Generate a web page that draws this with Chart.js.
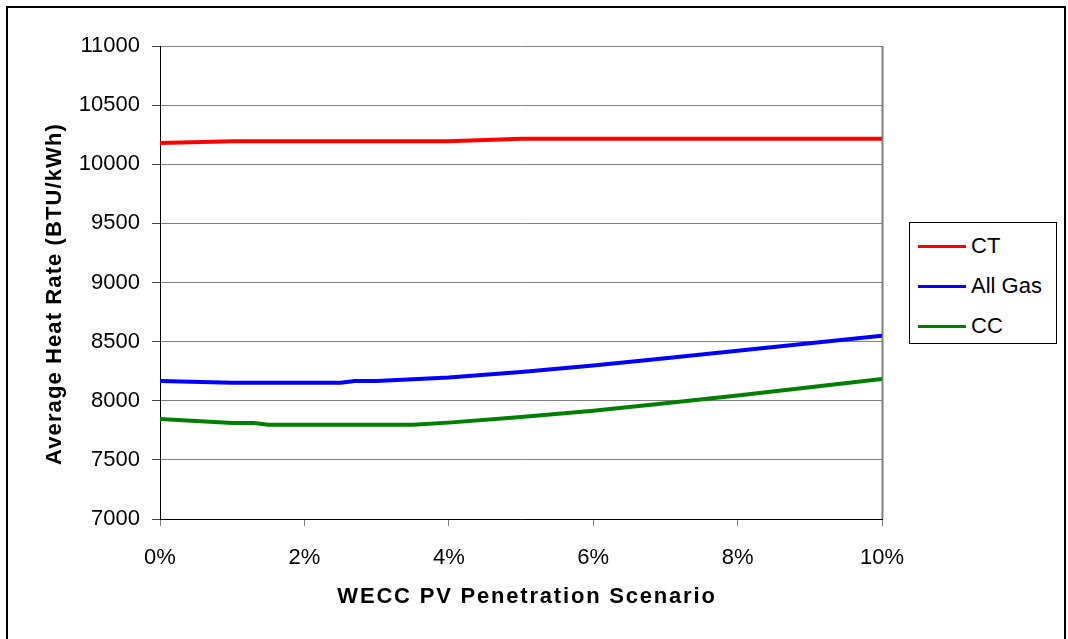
<!DOCTYPE html>
<html>
<head>
<meta charset="utf-8">
<script src="https://cdn.jsdelivr.net/npm/chart.js@4/dist/chart.umd.min.js"></script>
<style>
    body { margin: 0; background: #fff; }
    #wrap { position: relative; width: 1068px; height: 639px; }
    #legend {
        position: absolute; left: 909px; top: 222px; width: 146px; height: 117px;
        border: 1px solid #000; background: #fff; padding-top: 3px; box-sizing: content-box;
        font-family: "Liberation Sans", Arial, sans-serif; font-size: 22px; color: #000;
    }
    #legend .item { display: flex; align-items: center; height: 40px; margin-left: 8px; }
    #legend .swatch { width: 48px; height: 3px; margin-right: 5px; }
</style>
</head>
<body>
<div id="wrap">
    <canvas id="chart" width="1068" height="639"></canvas>
    <div id="legend"></div>
</div>
<script>
// series values (x in % penetration, y in BTU/kWh)
const seriesNames = ['CT', 'All Gas', 'CC'];
const seriesColors = ['#ff0000', '#0000ff', '#008000'];

const ctX = [0, 1, 4, 5, 10];
const ctY = [10180, 10195, 10195, 10215, 10215];

const gasX = [0, 1, 2.5, 2.7, 3, 4, 5, 6, 7, 8, 9, 10];
const gasY = [8167, 8152, 8152, 8167, 8168, 8197, 8243, 8298, 8360, 8422, 8487, 8550];

const ccX = [0, 1, 1.3, 1.5, 3.5, 4, 5, 6, 7, 8, 9, 10];
const ccY = [7845, 7812, 7812, 7797, 7797, 7815, 7862, 7915, 7978, 8045, 8115, 8185];

const xTitle = 'WECC PV Penetration Scenario';
const yTitle = 'Average Heat Rate (BTU/kWh)';

const fontFamily = '"Liberation Sans", Arial, sans-serif';

function toPoints(xs, ys) {
    return xs.map((x, i) => ({ x: x, y: ys[i] }));
}

const allX = [ctX, gasX, ccX];
const allY = [ctY, gasY, ccY];

const datasets = seriesNames.map((name, i) => ({
    label: name,
    data: toPoints(allX[i], allY[i]),
    borderColor: seriesColors[i],
    backgroundColor: seriesColors[i],
    borderWidth: 4,
    pointRadius: 0,
    tension: 0,
    fill: false
}));

// outer frame, right plot border, and spaced-out axis titles
const decorPlugin = {
    id: 'decor',
    beforeDatasetsDraw(chart) {
        const ctx = chart.ctx;
        const area = chart.chartArea;
        ctx.save();
        ctx.strokeStyle = '#808080';
        ctx.lineWidth = 2;
        ctx.beginPath();
        ctx.moveTo(area.right + 0.5, area.top);
        ctx.lineTo(area.right + 0.5, area.bottom);
        ctx.stroke();
        ctx.restore();
    },
    afterDraw(chart) {
        const ctx = chart.ctx;
        ctx.save();
        ctx.strokeStyle = '#000';
        ctx.lineWidth = 2;
        ctx.strokeRect(7, 7, 1058, 640);

        ctx.fillStyle = '#000';
        ctx.font = 'bold 22px ' + fontFamily;
        ctx.textAlign = 'center';
        ctx.textBaseline = 'alphabetic';
        ctx.letterSpacing = '1.8px';
        ctx.fillText(xTitle, 527, 603);

        ctx.letterSpacing = '1.1px';
        ctx.translate(61, 294);
        ctx.rotate(-Math.PI / 2);
        ctx.fillText(yTitle, 0, 0);
        ctx.restore();
    }
};

new Chart(document.getElementById('chart'), {
    type: 'line',
    data: { datasets: datasets },
    plugins: [decorPlugin],
    options: {
        responsive: false,
        animation: false,
        devicePixelRatio: 1,
        layout: { padding: { top: 46, right: 186, left: 0, bottom: 0 } },
        plugins: {
            legend: { display: false },
            tooltip: { enabled: false }
        },
        scales: {
            x: {
                type: 'linear',
                min: 0,
                max: 10,
                ticks: {
                    stepSize: 2,
                    color: '#000',
                    padding: 19,
                    maxRotation: 0,
                    font: { family: fontFamily, size: 22 },
                    callback: v => v + '%'
                },
                grid: { drawOnChartArea: false, tickLength: 7, color: '#808080' },
                border: { color: '#000', width: 1 },
                afterFit(scale) {
                    scale.height = 120;
                    scale.paddingLeft = 0;
                    scale.paddingRight = 0;
                }
            },
            y: {
                min: 7000,
                max: 11000,
                ticks: {
                    stepSize: 500,
                    color: '#000',
                    padding: 12,
                    font: { family: fontFamily, size: 22 },
                    callback: v => String(v)
                },
                grid: { color: '#808080', tickLength: 8, tickColor: '#444' },
                border: { color: '#000', width: 1 },
                afterFit(scale) {
                    scale.width = 160;
                    scale.paddingTop = 0;
                    scale.paddingBottom = 0;
                }
            }
        }
    }
});

// legend built from the same series arrays
const legend = document.getElementById('legend');
seriesNames.forEach((name, i) => {
    const item = document.createElement('div');
    item.className = 'item';
    const swatch = document.createElement('span');
    swatch.className = 'swatch';
    swatch.style.backgroundColor = seriesColors[i];
    const label = document.createElement('span');
    label.textContent = name;
    item.appendChild(swatch);
    item.appendChild(label);
    legend.appendChild(item);
});
</script>
</body>
</html>
